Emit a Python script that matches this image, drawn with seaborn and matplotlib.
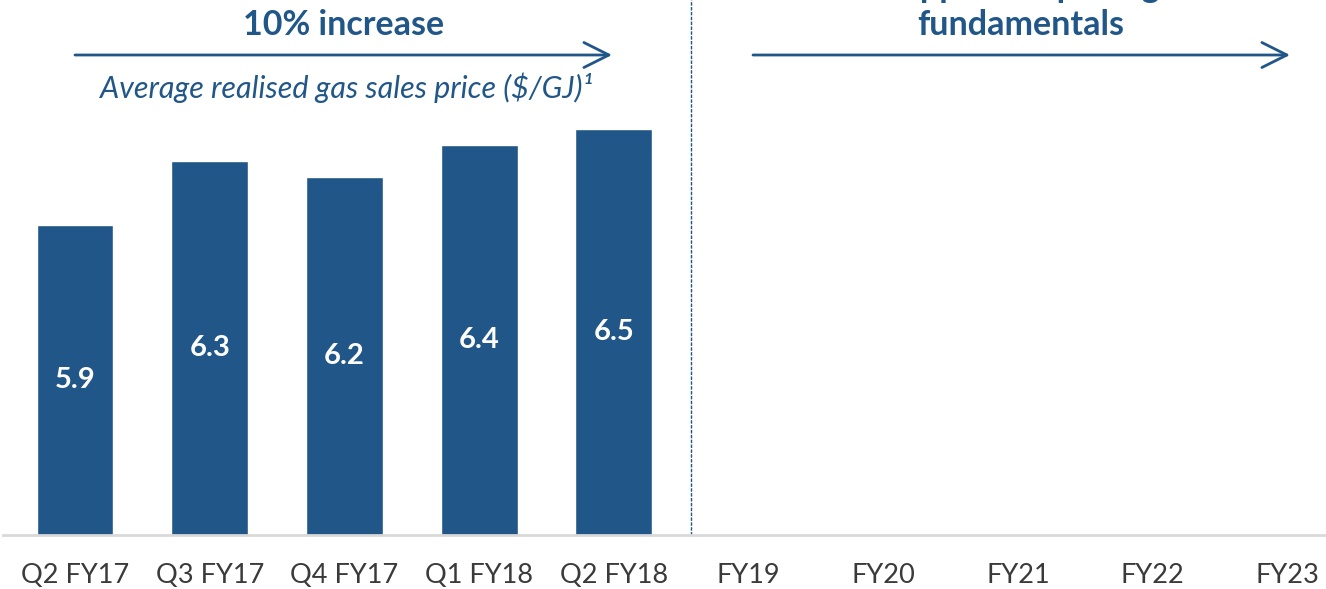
import matplotlib
matplotlib.use("Agg")
import matplotlib.pyplot as plt
from matplotlib.patches import FancyArrowPatch
import seaborn as sns
import pandas as pd

# data
periods = ["Q2 FY17", "Q3 FY17", "Q4 FY17", "Q1 FY18", "Q2 FY18",
           "FY19", "FY20", "FY21", "FY22", "FY23"]
gas_price = [5.9, 6.3, 6.2, 6.4, 6.5, None, None, None, None, None]

BLUE = "#215688"
GREY_TXT = "#3a3a3a"
Y0 = 3.96

sns.set_style("white")
plt.rcParams["font.family"] = ["Lato", "DejaVu Sans"]

df = pd.DataFrame({"period": periods, "price": gas_price})

W, H = 1326, 589
fig = plt.figure(figsize=(W / 100, H / 100), dpi=100)
ax = fig.add_axes([3 / W, 54 / H, (W - 3) / W, (H - 54) / H])

sns.barplot(data=df, x="period", y="price", order=periods, color=BLUE,
            saturation=1, width=0.57, ax=ax)

ax.set_xlim(-0.535, 9.287)
ax.set_ylim(Y0, Y0 + 535 / 160)

# value labels in the middle of each bar
for i, v in enumerate(gas_price):
    if v is None:
        continue
    ax.text(i, (Y0 + v) / 2, f"{v:.1f}", ha="center", va="center",
            color="white", fontsize=21, fontweight="bold")

sns.despine(ax=ax, left=True, top=True, right=True)
ax.spines["bottom"].set_color("#d9d9d9")
ax.spines["bottom"].set_linewidth(2)
ax.set_xlabel("")
ax.set_ylabel("")
ax.set_yticks([])
ax.tick_params(axis="x", length=0, pad=20, labelsize=19.5, labelcolor=GREY_TXT)

# divider between history and outlook
ax.axvline(4.57, color=BLUE, lw=1, ls=(0, (2.5, 1)))


def px(x, y):
    return x / W, 1 - y / H


# left header
fig.text(*px(344, 25), "10% increase", ha="center", va="center",
         color=BLUE, fontsize=24.5, fontweight="bold")
fig.text(*px(346, 88), "Average realised gas sales price ($/GJ)\u00b9",
         ha="center", va="center", color=BLUE, fontsize=22, style="italic")

# right header, first line runs off the top of the slide
fig.text(*px(1021, -13), "Supportive pricing", ha="center", va="center",
         color=BLUE, fontsize=24.5, fontweight="bold")
fig.text(*px(1021, 25), "fundamentals", ha="center", va="center",
         color=BLUE, fontsize=24.5, fontweight="bold")

for x0, x1 in [(75, 612), (753, 1290)]:
    arr = FancyArrowPatch(px(x0, 55), px(x1, 55), transform=fig.transFigure,
                          arrowstyle="->,head_length=0.9,head_width=0.45",
                          mutation_scale=20, color=BLUE, lw=2,
                          shrinkA=0, shrinkB=0)
    fig.patches.append(arr)

fig.savefig("out.png", dpi=100)
